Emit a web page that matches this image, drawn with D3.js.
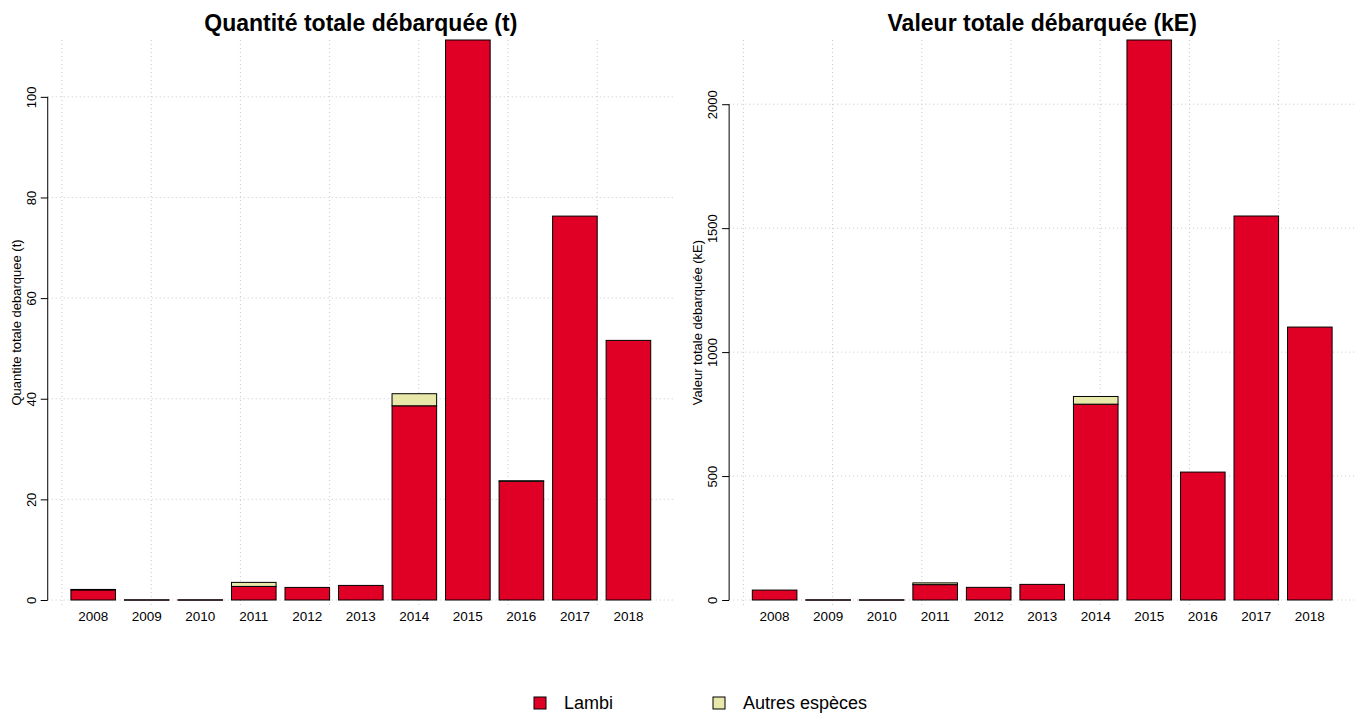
<!DOCTYPE html>
<html>
<head>
<meta charset="utf-8">
<script src="https://cdn.jsdelivr.net/npm/d3@7"></script>
<style>
  body { margin: 0; background: #fff; }
  text { font-family: "Liberation Sans", Arial, sans-serif; }
</style>
</head>
<body>
<div id="chart"></div>
<script>
const years = ["2008", "2009", "2010", "2011", "2012", "2013", "2014", "2015", "2016", "2017", "2018"];
const series = ["Lambi", "Autres espèces"];
const colors = ["#e00026", "#e8e8aa"];

// tonnes
const lambiT = [2.0, 0.05, 0.05, 2.7, 2.5, 2.9, 38.6, 111.3, 23.6, 76.3, 51.6];
const autresT = [0.1, 0, 0, 0.8, 0, 0, 2.4, 0, 0.1, 0, 0];
const ticksT = [0, 20, 40, 60, 80, 100];

// kE
const lambiV = [40, 1, 1, 62, 51, 63, 790, 2259, 516, 1549, 1101];
const autresV = [0, 0, 0, 7, 0, 0, 31, 0, 0, 0, 0];
const ticksV = [0, 500, 1000, 1500, 2000];

const W = 1362, H = 713;
const svg = d3.select("#chart").append("svg").attr("width", W).attr("height", H);

function panel(x0, title, ytitle, lambi, autres, ticks) {
  const unit = 44.6; // one bar width
  const top = 40, zero = 600, bottom = 605;
  const xu = d3.scaleLinear().domain([0, 13.4]).range([x0, x0 + 13.4 * unit]);
  const left = xu(-0.32), right = xu(13.72);

  const x = d3.scaleBand().domain(years).range([xu(0), xu(13.4)])
    .paddingInner(1 / 6).paddingOuter(1 / 6);

  const data = years.map((yr, i) => ({ year: yr, Lambi: lambi[i], "Autres espèces": autres[i] }));
  const stacked = d3.stack().keys(series)(data);
  const ymax = d3.max(data, (d) => d.Lambi + d["Autres espèces"]);
  const y = d3.scaleLinear().domain([0, ymax]).range([zero, top]);

  const g = svg.append("g");

  // grid
  g.selectAll(".hg").data(ticks).join("line")
    .attr("x1", left).attr("x2", right)
    .attr("y1", (d) => y(d)).attr("y2", (d) => y(d))
    .style("stroke", "#c8c8c8").style("stroke-dasharray", "1,3");
  g.selectAll(".vg").data(d3.range(0, 13, 2)).join("line")
    .attr("x1", (d) => xu(d)).attr("x2", (d) => xu(d))
    .attr("y1", top).attr("y2", bottom)
    .style("stroke", "#c8c8c8").style("stroke-dasharray", "1,3");

  // bars
  stacked.forEach((layer, k) => {
    g.selectAll(null).data(layer.filter((d) => d[1] > d[0])).join("rect")
      .attr("x", (d) => x(d.data.year))
      .attr("width", x.bandwidth())
      .attr("y", (d) => y(d[1]))
      .attr("height", (d) => Math.max(y(d[0]) - y(d[1]), 0.5))
      .style("fill", colors[k])
      .style("stroke", "#000")
      .style("stroke-width", 1);
  });

  // y axis
  const ax = g.append("g").attr("transform", `translate(${left},0)`)
    .call(d3.axisLeft(y).tickValues(ticks).tickSize(7).tickSizeOuter(0).tickFormat(d3.format("d")));
  ax.select(".domain").remove();
  ax.append("line").attr("x1", 0).attr("x2", 0)
    .attr("y1", y(ticks[0])).attr("y2", y(ticks[ticks.length - 1]))
    .style("stroke", "#000");
  ax.selectAll(".tick line").style("stroke", "#000");
  ax.selectAll(".tick text")
    .attr("x", null).attr("dy", null)
    .attr("transform", "translate(-12,0) rotate(-90)")
    .attr("text-anchor", "middle")
    .style("font-size", "13px").style("fill", "#000");

  // x labels
  g.selectAll(".xl").data(years).join("text")
    .attr("x", (d) => x(d) + x.bandwidth() / 2)
    .attr("y", 621)
    .attr("text-anchor", "middle")
    .style("font-size", "13.5px")
    .text((d) => d);

  // titles
  g.append("text")
    .attr("x", (left + right) / 2).attr("y", 31)
    .attr("text-anchor", "middle")
    .style("font-size", "23px").style("font-weight", "bold")
    .text(title);
  g.append("text")
    .attr("transform", `translate(${left - 27},${(top + bottom) / 2}) rotate(-90)`)
    .attr("text-anchor", "middle")
    .style("font-size", "13px")
    .text(ytitle);
}

panel(62, "Quantité totale débarquée (t)", "Quantite totale debarquee (t)", lambiT, autresT, ticksT);
panel(743.4, "Valeur totale débarquée (kE)", "Valeur totale débarquée (kE)", lambiV, autresV, ticksV);

// legend
const leg = svg.append("g");
const legX = [534, 713];
series.forEach((s, i) => {
  leg.append("rect")
    .attr("x", legX[i]).attr("y", 697).attr("width", 12).attr("height", 12)
    .style("fill", colors[i]).style("stroke", "#000");
  leg.append("text")
    .attr("x", legX[i] + 30).attr("y", 709)
    .style("font-size", "18px")
    .text(s);
});
</script>
</body>
</html>
